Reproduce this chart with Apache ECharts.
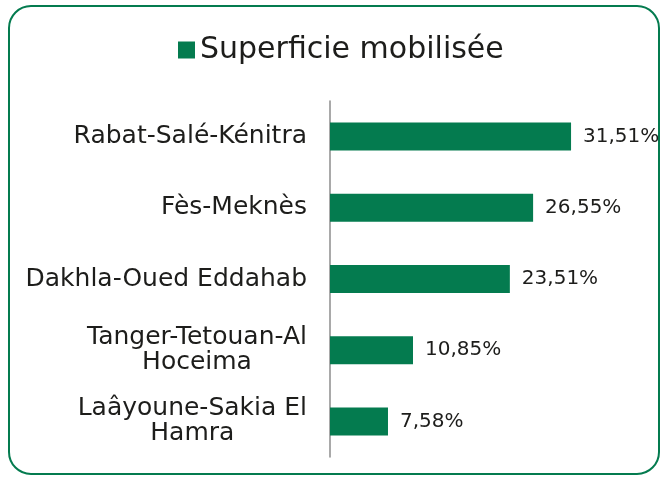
<!DOCTYPE html>
<html>
<head>
<meta charset="utf-8">
<script src="https://cdn.jsdelivr.net/npm/echarts@6/dist/echarts.min.js"></script>
<style>
  html, body { margin: 0; padding: 0; background: #ffffff; }
  #chart { width: 661px; height: 477px; }
</style>
</head>
<body>
<div id="chart"></div>
<script>
// Regions, listed top to bottom
const regions = [
  'Rabat-Salé-Kénitra',
  'Fès-Meknès',
  'Dakhla-Oued Eddahab',
  'Tanger-Tetouan-Al Hoceima',
  'Laâyoune-Sakia El Hamra'
];
// Share of mobilised area (%)
const shares = [31.51, 26.55, 23.51, 10.85, 7.58];
const seriesName = 'Superficie mobilisée';

const GREEN = '#047b4f';
const TEXT = '#1d1d1b';
const FONT = '"DejaVu Sans", sans-serif';
const LABEL_SIZE = 25;

// Long names go on two lines, split at the last space; the two lines are
// centred on each other while the whole block stays right-aligned.
function wrapName(name) {
  if (name.length <= 20) return name;
  const i = name.lastIndexOf(' ');
  return '{c|' + name.slice(0, i) + '}\n{c|' + name.slice(i + 1) + '}';
}

const chart = echarts.init(document.getElementById('chart'), null, { renderer: 'canvas' });

chart.setOption({
  backgroundColor: '#ffffff',
  animation: false,
  graphic: [{
    type: 'rect',
    shape: { x: 9, y: 6, width: 650, height: 468, r: 22 },
    style: { fill: 'none', stroke: GREEN, lineWidth: 2 },
    silent: true
  }],
  legend: {
    data: [seriesName],
    top: 30,
    left: 173,
    itemWidth: 17,
    itemHeight: 17,
    itemGap: 5,
    icon: 'rect',
    textStyle: { fontFamily: FONT, fontSize: 30, color: TEXT }
  },
  grid: { left: 330, top: 101, width: 306, height: 356, containLabel: false },
  xAxis: {
    type: 'value',
    min: 0,
    max: 40,
    show: false
  },
  yAxis: {
    type: 'category',
    inverse: true,
    data: regions,
    axisLine: { show: true, lineStyle: { color: '#8c8c8c', width: 1.5 } },
    axisTick: { show: false },
    splitLine: { show: false },
    axisLabel: {
      margin: 23,
      fontFamily: FONT,
      fontSize: LABEL_SIZE,
      color: TEXT,
      lineHeight: 25,
      align: 'right',
      formatter: wrapName,
      rich: {
        c: {
          align: 'center',
          fontFamily: FONT,
          fontSize: LABEL_SIZE,
          color: TEXT,
          lineHeight: 25
        }
      }
    }
  },
  series: [{
    name: seriesName,
    type: 'bar',
    data: shares,
    barWidth: 28,
    itemStyle: { color: GREEN },
    label: {
      show: true,
      position: 'right',
      distance: 12,
      fontFamily: FONT,
      fontSize: 20,
      color: TEXT,
      formatter: p => p.value.toFixed(2).replace('.', ',') + '%'
    }
  }]
});
</script>
</body>
</html>
